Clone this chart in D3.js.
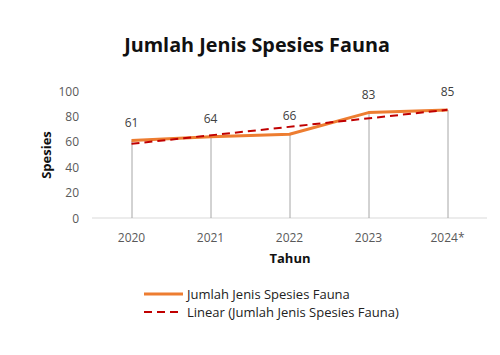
<!DOCTYPE html>
<html><head><meta charset="utf-8">
<script src="https://cdn.jsdelivr.net/npm/d3@7"></script>
<style>body{margin:0;background:#fff}svg{display:block}text{font-family:"Open Sans","Noto Sans",sans-serif}</style>
</head><body>
<script>
const categories = ["2020","2021","2022","2023","2024*"];
const values = [61,64,66,83,85];
const yTicks = [0,20,40,60,80,100];
const title = "Jumlah Jenis Spesies Fauna";
const seriesName = "Jumlah Jenis Spesies Fauna";
const trendName = "Linear (Jumlah Jenis Spesies Fauna)";

const W=500,H=355;
const svg=d3.select("body").append("svg").attr("width",W).attr("height",H);
const x=d3.scaleBand().domain(categories).range([92,487]);
const y=d3.scaleLinear().domain([0,100]).range([218,91]);
const cx=d=>x(d)+x.bandwidth()/2;

// title
svg.append("text").attr("x",257).attr("y",52).attr("text-anchor","middle")
  .attr("font-size",19.8).attr("font-weight","bold").attr("fill","#111").text(title);

// y axis labels
svg.selectAll(".yt").data(yTicks).enter().append("text")
  .attr("x",79).attr("y",d=>y(d)+4.5).attr("text-anchor","end")
  .attr("font-size",12).attr("fill","#595959").text(d=>d);

// x axis line
svg.append("line").attr("x1",92).attr("x2",487).attr("y1",y(0)).attr("y2",y(0))
  .attr("stroke","#D9D9D9").attr("stroke-width",1);

// x labels
svg.selectAll(".xt").data(categories).enter().append("text")
  .attr("x",d=>cx(d)).attr("y",242).attr("text-anchor","middle")
  .attr("font-size",12).attr("fill","#595959").text(d=>d);

// axis titles
svg.append("text").attr("transform","translate(51,155) rotate(-90)").attr("text-anchor","middle")
  .attr("font-size",13).attr("font-weight","bold").attr("fill","#111").text("Spesies");
svg.append("text").attr("x",290).attr("y",263).attr("text-anchor","middle")
  .attr("font-size",13).attr("font-weight","bold").attr("fill","#111").text("Tahun");

const pts=categories.map((c,i)=>({c,v:values[i]}));
// drop lines
svg.selectAll(".drop").data(pts).enter().append("line")
  .attr("x1",d=>cx(d.c)+0.5).attr("x2",d=>cx(d.c)+0.5).attr("y1",d=>y(d.v)).attr("y2",y(0))
  .attr("stroke","#A6A6A6").attr("stroke-width",1);

// series line
svg.append("path").datum(pts).attr("fill","none").attr("stroke","#ED7D31").attr("stroke-width",3)
  .attr("stroke-linejoin","round")
  .attr("d",d3.line().x(d=>cx(d.c)).y(d=>y(d.v)));

// linear trend (least squares)
const n=values.length, xm=(n-1)/2, ym=d3.mean(values);
const slope=d3.sum(values,(v,i)=>(i-xm)*(v-ym))/d3.sum(values,(v,i)=>(i-xm)*(i-xm));
const icpt=ym-slope*xm;
svg.append("line").attr("x1",cx(categories[0])).attr("x2",cx(categories[n-1]))
  .attr("y1",y(icpt)).attr("y2",y(icpt+slope*(n-1)))
  .attr("stroke","#C00000").attr("stroke-width",2).attr("stroke-dasharray","8,5");

// data labels
svg.selectAll(".dl").data(pts).enter().append("text")
  .attr("x",d=>cx(d.c)).attr("y",d=>y(d.v)-14).attr("text-anchor","middle")
  .attr("font-size",12).attr("fill","#404040").text(d=>d.v);

// legend
svg.append("line").attr("x1",144).attr("x2",183).attr("y1",294).attr("y2",294)
  .attr("stroke","#ED7D31").attr("stroke-width",3);
svg.append("text").attr("x",187).attr("y",299).attr("font-size",13).attr("fill","#222").text(seriesName);
svg.append("line").attr("x1",144).attr("x2",183).attr("y1",312).attr("y2",312)
  .attr("stroke","#C00000").attr("stroke-width",2).attr("stroke-dasharray","8,5");
svg.append("text").attr("x",187).attr("y",317).attr("font-size",13).attr("fill","#222").text(trendName);
</script>
</body></html>
